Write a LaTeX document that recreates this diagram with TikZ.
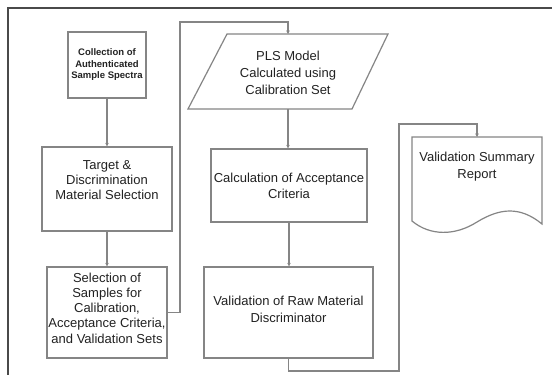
\documentclass[tikz,border=0pt]{standalone}
\usepackage{fontspec}
\setmainfont{Liberation Sans}
\usetikzlibrary{arrows.meta}
\definecolor{framec}{HTML}{4A4A4A}
\definecolor{linec}{HTML}{858585}
\definecolor{textc}{HTML}{222222}
\begin{document}
\begin{tikzpicture}[x=1pt,y=-1pt,
  box/.style={draw=linec, line width=1.2pt, inner sep=0pt, fill=white},
  lbl/.style={text=textc, align=center, inner sep=0pt, font=\fontsize{13}{16.8}\selectfont},
  lbltight/.style={lbl, font=\fontsize{13}{15.3}\selectfont},
  lblsmall/.style={lbl, font=\bfseries\fontsize{9.5}{11.5}\selectfont},
  conn/.style={draw=linec, line width=1.1pt},
  arr/.style={conn, -{Stealth[length=3.5pt,width=3.5pt]}}]
\useasboundingbox (0,0) rectangle (552,375);
\fill[white] (0,0) rectangle (552,375);
% frame
\coordinate (fTL) at (8,8);
\coordinate (fTR) at (552,8);
\coordinate (fBL) at (8,375);
\draw[framec, line width=2pt] (fTR) -- (fTL) -- (fBL);
% boxes
\node[box, minimum width=78pt, minimum height=66pt] (b1) at (107,65) {};
\node[lblsmall] (t1) at (107,64.7) {Collection of\\Authenticated\\Sample Spectra};
\node[box, minimum width=130pt, minimum height=84pt] (b2) at (107,189) {};
\node[lbltight] (t2) at (107,180) {Target \&\\Discrimination\\Material Selection};
\node[box, minimum width=120pt, minimum height=91pt] (b3) at (107,312.5) {};
\node[lbltight] (t3) at (107,308) {Selection of\\Samples for\\Calibration,\\Acceptance Criteria,\\and Validation Sets};
% parallelogram
\draw[draw=linec, line width=1.2pt, fill=white] (227,34) -- (388,34) -- (352,109) -- (188,109) -- cycle;
\coordinate (plsT) at (288,34);
\coordinate (plsB) at (288,109);
\node[lbl] (tp) at (288,73) {PLS Model\\Calculated using\\Calibration Set};
\node[box, minimum width=156pt, minimum height=73pt] (b4) at (289,185.5) {};
\node[lbl] (t4) at (289,185.8) {Calculation of Acceptance\\Criteria};
\node[box, minimum width=169pt, minimum height=91pt] (b5) at (288.5,312.5) {};
\node[lbl] (t5) at (288.5,309.7) {Validation of Raw Material\\Discriminator};
% document shape
\draw[draw=linec, line width=1.2pt, fill=white] (412,137) -- (542,137) -- (542,224)
  .. controls (520,206) and (500,208) .. (477,222)
  .. controls (455,236) and (430,236) .. (412,221) -- cycle;
\coordinate (docT) at (477,137);
\node[lbl] (t6) at (477,166.7) {Validation Summary\\Report};
% connectors
\coordinate (k1) at (180,22);
\coordinate (k2) at (288,371);
\coordinate (k3) at (399,124);
\draw[arr] (b1.south) -- (b2.north);
\draw[arr] (b2.south) -- (b3.north);
\draw[arr] (b3.east) -| (k1) -| (plsT);
\draw[arr] (plsB) -- (plsB |- b4.north);
\draw[arr] (b4.south) -- (b4.south |- b5.north);
\draw[arr] (b5.south) -- (b5.south |- k2) -| (k3) -| (docT);
\end{tikzpicture}
\end{document}
